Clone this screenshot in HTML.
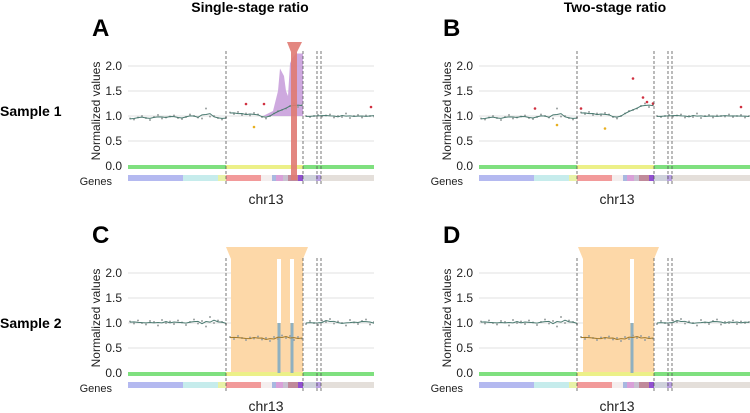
<!DOCTYPE html>
<html><head><meta charset="utf-8"><style>
body{margin:0;background:#fff;}
svg{display:block;font-family:"Liberation Sans",Arial,sans-serif;}
</style></head><body>
<svg id="fig" width="750" height="413" viewBox="0 0 750 413" xmlns="http://www.w3.org/2000/svg">
<text x="250" y="12" text-anchor="middle" font-size="14" font-weight="bold">Single-stage ratio</text>
<text x="615" y="12" text-anchor="middle" font-size="14" font-weight="bold">Two-stage ratio</text>
<text x="0" y="116" font-size="14" font-weight="bold">Sample 1</text>
<text x="0" y="328" font-size="14" font-weight="bold">Sample 2</text>
</svg>
<script>
const sample1Vals=[0.95,0.93,0.97,1.0,0.96,0.92,0.98,1.02,0.95,0.97,0.99,1.01,0.96,0.94,0.98,1.03,1.0,0.97,0.95,1.15,0.99,1.0,0.96,0.93,0.97,
1.07,1.04,1.08,1.02,1.05,1.01,1.06,1.03,0.98,0.95,1.0,1.05,1.1,1.12,1.15,1.2,1.25,1.18,1.22,
1.0,0.98,1.0,1.02,0.99,1.01,1.03,0.97,1.0,0.98,1.05,0.96,1.0,1.02,0.97,1.01,1.0,0.99,1.03,0.98,1.0,1.02,0.97,1.0];
const sample2Vals=[1.03,0.99,1.05,1.0,0.97,1.04,1.02,0.95,1.06,1.0,1.03,0.98,1.05,1.01,0.96,1.02,1.07,0.99,1.04,0.93,1.12,1.0,1.05,1.02,0.98,
0.72,0.68,0.74,0.7,0.66,0.71,0.69,0.73,0.67,0.7,0.64,0.72,0.68,0.75,0.7,0.74,0.66,0.72,0.69,
0.98,1.04,1.0,0.96,1.05,1.02,1.08,0.99,1.03,1.0,0.95,1.06,1.01,0.98,1.04,1.07,0.97,1.02,1.0,1.05,0.98,1.03,1.0,1.02];
const yTicks=[0.0,0.5,1.0,1.5,2.0];
const tickLabels=["0.0","0.5","1.0","1.5","2.0"];
const breakpoints=[98,175,189,193];
const geneStarts=[0,55,90,98,133,144,148,155,160,170,175,188,193];
const geneEnds=[55,90,98,133,144,148,155,160,170,175,188,193,272];
const geneColors=["#b4b9f0","#c6ecec","#e8f2a8","#f29a9a","#f4eeee","#a8b8e0","#d9a0d8","#c8c0d0","#c08a9a","#9050d0","#cfd2dc","#b8a0e0","#e4dfda"];
const redPtsA_pos=[118,136,243],redPtsA_val=[1.24,1.24,1.18];
const yelPtsA_pos=[126],yelPtsA_val=[0.78];
const purplePos=[135,140,145,150,152,156,158,160,162,164,168,175];
const purpleVal=[1.0,1.05,1.1,1.5,1.95,1.8,1.5,1.4,2.05,2.15,2.25,2.25];
const redPtsB_pos=[56,102,154,164,168,174,262],redPtsB_val=[1.15,1.15,1.75,1.37,1.28,1.25,1.18];
const yelPtsB_pos=[78,126],yelPtsB_val=[0.82,0.75];
const barsC_pos=[151,164],barsC_val=[1.0,1.0];
const barsD_pos=[153],barsD_val=[1.0];
const NS="http://www.w3.org/2000/svg";
const svg=document.getElementById('fig');
function mk(tag,attrs,parent){const e=document.createElementNS(NS,tag);for(const k in attrs)e.setAttribute(k,attrs[k]);(parent||svg).appendChild(e);return e;}
function panel(cfg){
  const g=mk('g',{});
  
  
  const X=r=>cfg.ox+r, Y=v=>cfg.y0-v*50;
  const clipId='clip'+cfg.letter;
  const cp=mk('clipPath',{id:clipId},g);mk('rect',{x:cfg.ox,y:cfg.y0-135,width:cfg.right-cfg.ox,height:160},cp);
  const pg=mk('g',{'clip-path':'url(#'+clipId+')'},g);
  const lt=mk('text',{x:cfg.ox-36,y:cfg.y0-130,'font-size':24,'font-weight':'bold'},g);lt.textContent=cfg.letter;
  
  
  yTicks.forEach((t,i)=>{
    mk('line',{x1:cfg.ox,x2:cfg.right,y1:Y(t),y2:Y(t),stroke:'#e2e2e2','stroke-width':1},pg);
    const tx=mk('text',{x:cfg.ox-6,y:Y(t)+4,'text-anchor':'end','font-size':12,fill:'#222'},g);tx.textContent=tickLabels[i];
    
    
  });
  const yt=mk('text',{transform:`translate(${cfg.ox-28},${cfg.y0-55}) rotate(-90)`,'text-anchor':'middle','font-size':12,fill:'#222'},g);yt.textContent='Normalized values';
  
  
  const gn=mk('text',{x:cfg.ox-16,y:cfg.y0+19,'text-anchor':'end','font-size':11,fill:'#222'},g);gn.textContent='Genes';
  
  
  const ch=mk('text',{x:cfg.ox+138,y:cfg.y0+38,'text-anchor':'middle','font-size':14,fill:'#222'},g);ch.textContent='chr13';
  
  
  // orange region
  if(cfg.orange){const [a,b]=cfg.orange;
    const p=mk('path',{d:`M${X(a-5)},${cfg.y0-126} L${X(b+5)},${cfg.y0-126} L${X(b)},${cfg.y0-114} L${X(b)},${cfg.y0+2} L${X(a)},${cfg.y0+2} L${X(a)},${cfg.y0-114}Z`,fill:'#fdd8a8'},pg);
    
    
  }
  // green bar
  mk('rect',{x:cfg.ox,y:cfg.y0-1,width:cfg.right-cfg.ox,height:4,fill:'#7fe07f'},pg);
  mk('rect',{x:X(98),y:cfg.y0-1,width:77,height:4,fill:'#ecf088'},pg);
  // genes
  geneStarts.forEach((s,i)=>{const r=mk('rect',{x:X(s),y:cfg.y0+9,width:geneEnds[i]-s,height:6,fill:geneColors[i]},pg);
    
    });
  // purple area
  if(cfg.purple){let d=`M${X(purplePos[0])},${Y(1.0)}`;purplePos.forEach((p,i)=>d+=` L${X(p)},${Y(purpleVal[i])}`);d+=` L${X(175)},${Y(1.0)}Z`;
    const a=mk('path',{d,fill:'#c9a0dc','fill-opacity':0.9},pg);}
  // bars
  (cfg.bars||[[],[]])[0].forEach((p,i)=>{const v=cfg.bars[1][i];
    mk('rect',{x:X(p)-2,y:cfg.y0-114,width:4,height:114-v*50,fill:'#fff'},pg);
    const b=mk('rect',{x:X(p)-1.5,y:Y(v),width:3,height:v*50,fill:'#8fb0c0'},pg);
    });
  // points
  const vals=cfg.vals;
  vals.forEach((v,i)=>{const c=mk('circle',{cx:X(i*4+2),cy:Y(v),r:1,fill:'#9aa0a0'},pg);
    });
  // smooth line per segment
  [[0,25],[25,44],[44,68]].forEach(([s,e],si)=>{let d='';
    for(let i=s;i<e;i++){const a=vals[Math.max(s,i-1)],b=vals[i],c=vals[Math.min(e-1,i+1)];const m=(a+b+c)/3;d+=(i==s?'M':'L')+X(i*4+2)+','+Y(m)+' ';}
    const l=mk('path',{d,fill:'none',stroke:(si==1&&cfg.orange)?'#a07828':'#4a7a70','stroke-width':1},pg);
    });
  (cfg.red||[[],[]])[0].forEach((p,i)=>{const c=mk('circle',{cx:X(p),cy:Y(cfg.red[1][i]),r:1.3,fill:'#d03040'},pg);});
  (cfg.yel||[[],[]])[0].forEach((p,i)=>{const c=mk('circle',{cx:X(p),cy:Y(cfg.yel[1][i]),r:1.3,fill:'#e8b020'},pg);});
  // red bar
  if(cfg.redbar){const p=mk('path',{d:`M${X(159)},${cfg.y0-124} L${X(174)},${cfg.y0-124} L${X(169)},${cfg.y0-114} L${X(169)},${cfg.y0+14} L${X(163)},${cfg.y0+14} L${X(163)},${cfg.y0-114}Z`,fill:'#e07a72','fill-opacity':0.9},pg);
    }
  // breakpoints
  breakpoints.forEach(b=>{const l=mk('line',{x1:X(b),x2:X(b),y1:cfg.y0-115,y2:cfg.y0+20,stroke:'#555','stroke-width':0.8,'stroke-dasharray':'3,2'},pg);
    });
}
panel({letter:'A',ox:128,right:374,y0:166,vals:sample1Vals,purple:true,redbar:true,red:[redPtsA_pos,redPtsA_val],yel:[yelPtsA_pos,yelPtsA_val]});
panel({letter:'B',ox:479,right:750,y0:166,vals:sample1Vals,red:[redPtsB_pos,redPtsB_val],yel:[yelPtsB_pos,yelPtsB_val]});
panel({letter:'C',ox:128,right:374,y0:373,vals:sample2Vals,orange:[103,175],bars:[barsC_pos,barsC_val]});
panel({letter:'D',ox:479,right:750,y0:373,vals:sample2Vals,orange:[104,175],bars:[barsD_pos,barsD_val]});
</script>
</body></html>
